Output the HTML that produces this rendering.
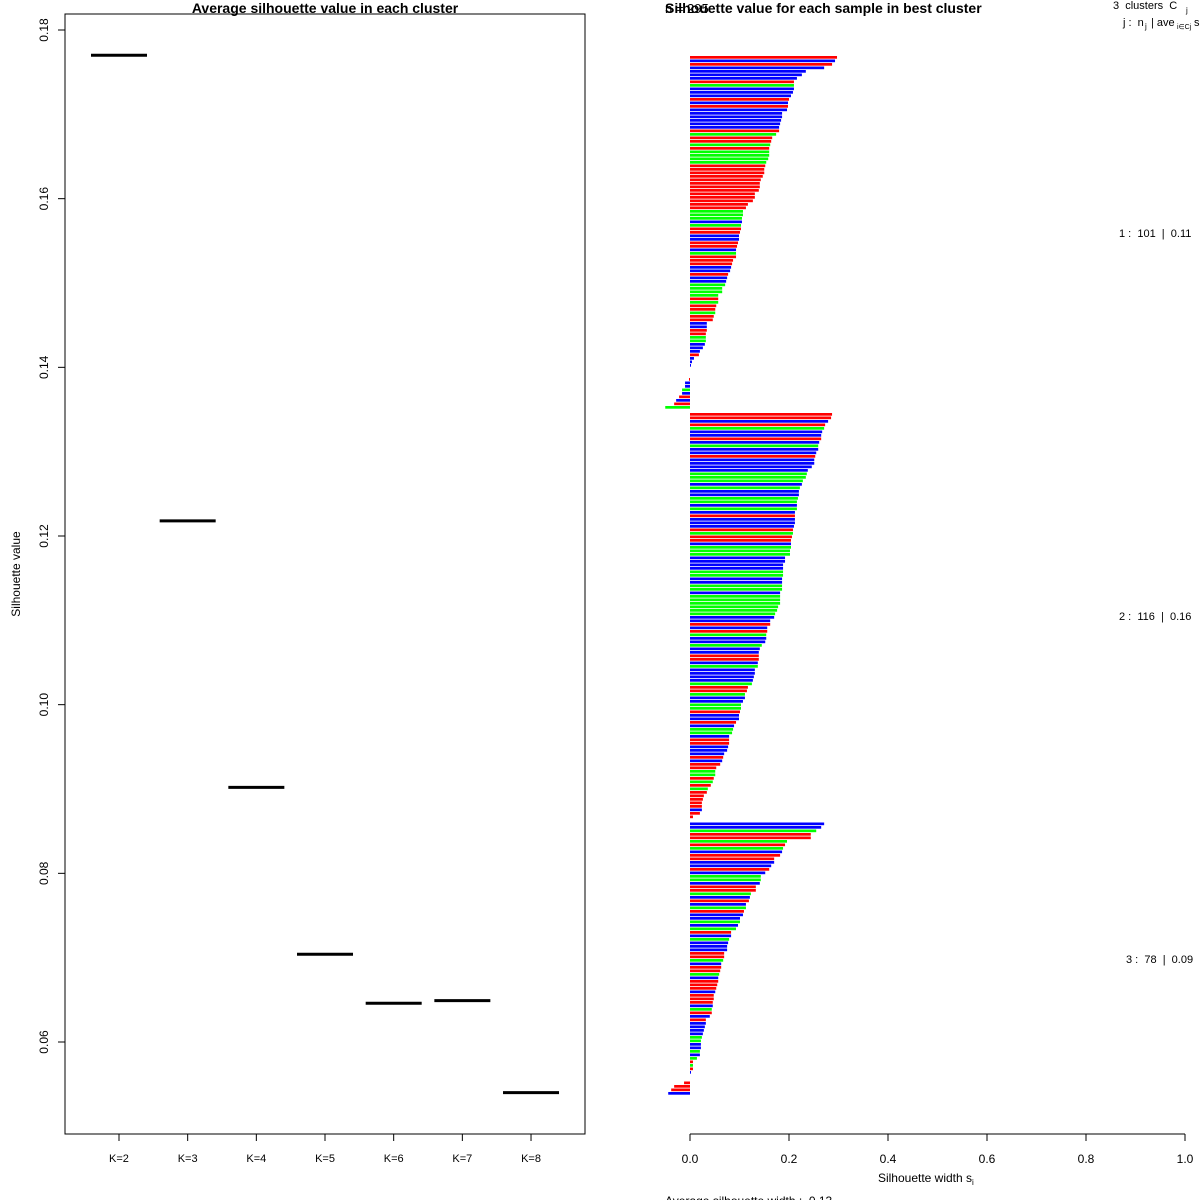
<!DOCTYPE html>
<html><head><meta charset="utf-8"><style>
html,body{margin:0;padding:0;background:#fff;}
svg{display:block;font-family:"Liberation Sans",Arial,sans-serif;}
</style></head><body>
<svg id="chart" width="1200" height="1200" viewBox="0 0 1200 1200">
<g id="left"></g>
<g id="right"></g>
</svg>
<script>
const kLabels = ["K=2","K=3","K=4","K=5","K=6","K=7","K=8"];
const avgValues = [0.1770,0.1218,0.0902,0.0704,0.0646,0.0649,0.0540];
const yTicks = [0.06,0.08,0.10,0.12,0.14,0.16,0.18];

const c1Values = [.297,.293,.287,.271,.234,.226,.216,.210,.210,.210,.208,.204,.200,.198,.198,.196,.186,.186,.184,.182,.180,.180,.174,.166,.164,.162,.160,.160,.160,.158,.154,.152,.150,.150,.147,.143,.141,.141,.139,.131,.131,.127,.117,.113,.107,.107,.105,.105,.103,.103,
.101,.099,.099,.097,.095,.093,.093,.093,.087,.085,.083,.081,.077,.075,.073,.071,.065,.065,.057,.057,.057,.053,.051,.051,.048,.046,.034,.034,.034,.032,.032,.032,.030,.026,.020,.018,.008,.004,.002,
0,0,0,-.002,-.010,-.010,-.016,-.016,-.022,-.028,-.032,-.050];
const c1Colors = "RBRBBBBRGBBBRBRBBBBBBRGRRGRGGGGRRRRRRRRRRRRRGGGBGR"+"RBBRRBGRRRBBRBBGGGGRGRRGRRBBRRGGBBBRBBB"+"RRR"+"RBBGBRBRG";
const c2Values = [.287,.285,.279,.273,.271,.267,.265,.265,.261,.259,.259,.255,.253,.251,.251,.246,.238,.236,.234,.228,.226,.222,.220,.220,.218,.216,.216,.216,.212,.212,.212,.212,.210,.208,.208,.206,.204,.204,.204,.202,.202,.192,.192,.188,.188,.188,.188,.186,.186,.186,.186,.182,.182,.182,.182,.178,.176,.172,.170,
.162,.162,.156,.156,.154,.154,.152,.145,.141,.139,.139,.139,.137,.137,.131,.131,.129,.127,.125,.117,.115,.111,.111,.107,.103,.103,.101,.099,.099,.093,.089,.087,.085,.079,.079,.079,.077,.075,.069,.067,.065,.061,.053,.051,.051,.048,.046,.042,.036,.034,.028,.026,.024,.024,.024,.020,.006];
const c2Colors = "RRBRGBBRBGBBRBBBBGGGBGBBGGBGBRBBBRGRRBGGGBBBBGGBBGGBGGGGGGB"+"BRBRGBBGBBRRBGBBBBGRRGBBGGRBBRBGGBRRBBBRBRRGGRGRGRRRRRBR";
const c3Values = [.271,.265,.255,.244,.244,.196,.192,.188,.186,.182,.170,.170,.164,.160,.152,.143,.143,.141,.133,.133,.123,.121,.119,.113,.113,.109,.107,.101,.101,.097,.093,.083,.083,.079,.077,.075,.075,.069,.069,
.067,.063,.063,.061,.059,.057,.057,.055,.053,.051,.048,.048,.046,.046,.044,.044,.040,.032,.032,.030,.028,.026,.024,.022,.022,.022,.020,.020,.014,.006,.006,.006,.002,
0,0,-.012,-.032,-.038,-.044];
const c3Colors = "BBGRRGRGBRRBBRBGGBRRGBRBGRBBGBGRBGBBBRR"+"GBRRGBRRRBRRRBGRBRBBBBGGBBGBGRGRB"+"RR"+"RRRB";
const xTicks = [0,0.2,0.4,0.6,0.8,1.0];
const clusterLabels = ["1 :\u00a0\u00a0101\u00a0\u00a0|\u00a0\u00a00.11","2 :\u00a0\u00a0116\u00a0\u00a0|\u00a0\u00a00.16","3 :\u00a0\u00a078\u00a0\u00a0|\u00a0\u00a00.09"];

const NS="http://www.w3.org/2000/svg";
function mk(tag, attrs, parent, text){
  const e=document.createElementNS(NS,tag);
  for(const k in attrs) e.setAttribute(k,attrs[k]);
  if(text!==undefined) e.textContent=text;
  parent.appendChild(e); return e;
}
const colorMap={R:"#ff0000",G:"#00ff00",B:"#0000ff"};

// ---- Left panel
const L=document.getElementById('left');
const yScale=v=>30+(0.18-v)*(1012/0.12);
const xCat=i=>119+i*68.67;
let e;
e=mk('rect',{x:65,y:14,width:520,height:1120,fill:'none',stroke:'#000','stroke-width':1},L);


e=mk('text',{x:325,y:13,'text-anchor':'middle','font-size':14,'font-weight':'bold'},L,'Average silhouette value in each cluster');


e=mk('text',{x:20,y:574,'text-anchor':'middle','font-size':12,transform:'rotate(-90 20 574)'},L,'Silhouette value');


yTicks.forEach(t=>{
  const y=yScale(t);
  e=mk('line',{x1:58,x2:65,y1:y,y2:y,stroke:'#000'},L);
  
  
  e=mk('text',{x:48,y:y,'text-anchor':'middle','font-size':12,transform:`rotate(-90 48 ${y})`},L,t.toFixed(2));
  
  
});
kLabels.forEach((k,i)=>{
  const x=xCat(i);
  e=mk('line',{x1:x,x2:x,y1:1134,y2:1141,stroke:'#000'},L);
  
  
  e=mk('text',{x:x,y:1162,'text-anchor':'middle','font-size':11},L,k);
  
  
  const y=yScale(avgValues[i]);
  e=mk('line',{x1:x-28,x2:x+28,y1:y,y2:y,stroke:'#000','stroke-width':3},L);
  
  
});

// ---- Right panel
const R=document.getElementById('right');
const xS=v=>690+v*495;
e=mk('text',{x:665,y:13,'font-size':14,'font-weight':'bold'},R,'Silhouette value for each sample in best cluster');


e=mk('text',{x:665,y:13,'font-size':13},R,'n = 295');


e=mk('text',{x:1113,y:9,'font-size':11},R,'3\u00a0\u00a0clusters\u00a0\u00a0C');


mk('text',{x:1186,y:13,'font-size':8},R,'j');
e=mk('text',{x:1123,y:26,'font-size':11},R,'j :\u00a0\u00a0n');


mk('text',{x:1145,y:29,'font-size':8},R,'j');
mk('text',{x:1151,y:26,'font-size':11},R,'| ave');
mk('text',{x:1177,y:29,'font-size':7},R,'i∈Cj');
mk('text',{x:1194,y:26,'font-size':11},R,'s');

const clusters=[[c1Values,c1Colors],[c2Values,c2Colors],[c3Values,c3Colors]];
let slot=0; const pitch=3.5, top0=56;
clusters.forEach(([vals,cols],ci)=>{
  const start=slot;
  vals.forEach((v,i)=>{
    const y=top0+slot*pitch;
    const x0=xS(Math.min(0,v)), w=Math.abs(xS(v)-xS(0));
    const r=mk('rect',{x:x0,y:y,width:w,height:2.7,fill:colorMap[cols[i]]||'#ff0000'},R);
    
    
    slot++;
  });
  const midY=top0+((start+slot)/2)*pitch;
  const lt=mk('text',{x:(ci===2?1126:1119),y:midY+4,'font-size':11},R,clusterLabels[ci]);
  
  
  slot++;
});

e=mk('line',{x1:690,x2:1185,y1:1134,y2:1134,stroke:'#000'},R);


xTicks.forEach(t=>{
  const x=xS(t);
  e=mk('line',{x1:x,x2:x,y1:1134,y2:1141,stroke:'#000'},R);
  
  
  e=mk('text',{x:x,y:1163,'text-anchor':'middle','font-size':12},R,t.toFixed(1));
  
  
});
e=mk('text',{x:925,y:1182,'text-anchor':'middle','font-size':12},R,'Silhouette width s');


mk('text',{x:972,y:1185,'font-size':8},R,'i');
e=mk('text',{x:665,y:1205,'font-size':12},R,'Average silhouette width :\u00a0\u00a00.13');


</script>
</body></html>
